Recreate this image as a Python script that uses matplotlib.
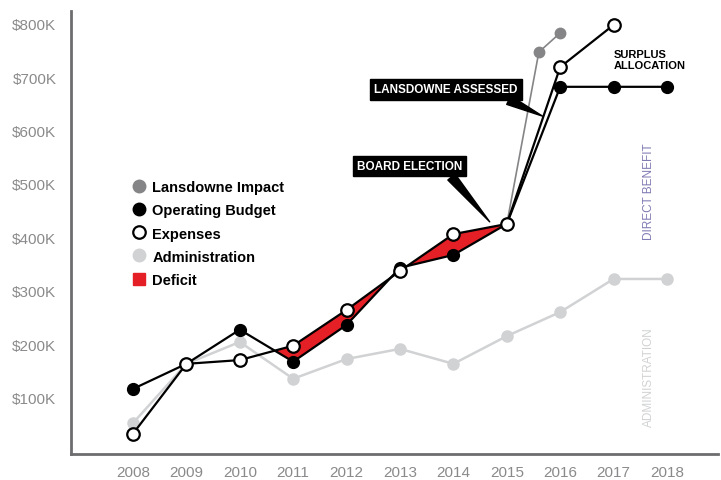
import numpy as np
import matplotlib.pyplot as plt
from matplotlib.lines import Line2D

# data (in $K)
years = np.arange(2008, 2019)
budget = np.array([116, 163, 227, 167, 236, 343, 367, 425, 682, 682, 682])
exp_years = np.arange(2008, 2018)
expenses = np.array([32, 163, 170, 197, 264, 337, 406, 425, 719, 798])
admin = np.array([52, 163, 204, 135, 172, 191, 163, 215, 260, 322, 322])
impact_years = [2015, 2015.6, 2016]
impact = [425, 747, 783]

ytick_vals = [100, 200, 300, 400, 500, 600, 700, 800]
ytick_labels = ['$%dK' % v for v in ytick_vals]

RED = '#e41f26'
GREY = '#858587'
LIGHT = '#d1d2d4'
AXC = '#6d6d70'

plt.rcParams['font.family'] = ['Liberation Sans', 'DejaVu Sans']

fig = plt.figure(figsize=(7.21, 4.81), dpi=100)
ax = fig.add_axes([0.0985, 0.054, 0.897, 0.921])

# admin line (bottom)
ax.plot(years, admin, color=LIGHT, lw=1.8, marker='o', ms=8,
        mfc=LIGHT, mec=LIGHT, zorder=2)

# lansdowne impact
ax.plot(impact_years, impact, color=GREY, lw=1.2, zorder=3)
ax.plot(impact_years[1:], impact[1:], 'o', color=GREY, ms=7.5, zorder=3)

# deficit fill
n = len(exp_years)
b = budget[:n]
mask = (exp_years >= 2010) & (exp_years <= 2015) & (expenses >= b)
ax.fill_between(exp_years, b, expenses, where=mask, interpolate=True,
                color=RED, lw=0, zorder=4)

ax.plot(years, budget, color='black', lw=1.6, marker='o', ms=8.5,
        mfc='black', mec='black', zorder=5)
ax.plot(exp_years, expenses, color='black', lw=1.6, marker='o', ms=9,
        mfc='white', mec='black', mew=1.6, zorder=6)

# annotations
box = dict(boxstyle='square,pad=0.35', fc='black', ec='black')
ax.annotate('LANSDOWNE ASSESSED', xy=(2015.67, 627), xytext=(2013.86, 677),
            ha='center', va='center', color='white', fontsize=8.5,
            fontweight='bold', bbox=box, zorder=7,
            arrowprops=dict(arrowstyle='wedge,tail_width=0.8,shrink_factor=0.5',
                            fc='black', ec='black', shrinkA=0, shrinkB=0,
                            relpos=(0.87, 0.0)))
ax.annotate('BOARD ELECTION', xy=(2014.68, 429), xytext=(2013.18, 533),
            ha='center', va='center', color='white', fontsize=8.5,
            fontweight='bold', bbox=box, zorder=7,
            arrowprops=dict(arrowstyle='wedge,tail_width=0.8,shrink_factor=0.5',
                            fc='black', ec='black', shrinkA=0, shrinkB=0,
                            relpos=(0.86, 0.0)))

ax.text(2017.0, 733, 'SURPLUS\nALLOCATION', fontsize=8, fontweight='bold',
        ha='left', va='center', linespacing=1.05, color='black')
ax.text(2017.66, 487, 'DIRECT BENEFIT', rotation=90, fontsize=8.5,
        ha='center', va='center', color='#7f7ab3')
ax.text(2017.66, 140, 'ADMINISTRATION', rotation=90, fontsize=8.5,
        ha='center', va='center', color=LIGHT)

# legend
handles = [
    Line2D([], [], ls='', marker='o', ms=9, mfc=GREY, mec=GREY),
    Line2D([], [], ls='', marker='o', ms=9, mfc='black', mec='black'),
    Line2D([], [], ls='', marker='o', ms=9, mfc='white', mec='black', mew=1.6),
    Line2D([], [], ls='', marker='o', ms=9, mfc=LIGHT, mec=LIGHT),
    Line2D([], [], ls='', marker='s', ms=9, mfc=RED, mec=RED),
]
labels = ['Lansdowne Impact', 'Operating Budget', 'Expenses',
          'Administration', 'Deficit']
leg = ax.legend(handles, labels, loc='upper left', bbox_to_anchor=(0.082, 0.634),
                frameon=False, handlelength=1.0, handletextpad=0.45,
                labelspacing=0.62, borderpad=0,
                prop={'weight': 'bold', 'size': 10.5})

ax.set_xlim(2006.84, 2018.95)
ax.set_ylim(-6, 824)
ax.set_xticks(years)
ax.set_yticks(ytick_vals)
ax.set_yticklabels(ytick_labels)
ax.tick_params(length=0, labelsize=11, colors='#8a8a8c')
ax.tick_params(axis='y', pad=10.5)
ax.tick_params(axis='x', pad=8)
for s in ['top', 'right']:
    ax.spines[s].set_visible(False)
for s in ['left', 'bottom']:
    ax.spines[s].set_color(AXC)
    ax.spines[s].set_linewidth(2)

plt.savefig('out.png', dpi=100)
